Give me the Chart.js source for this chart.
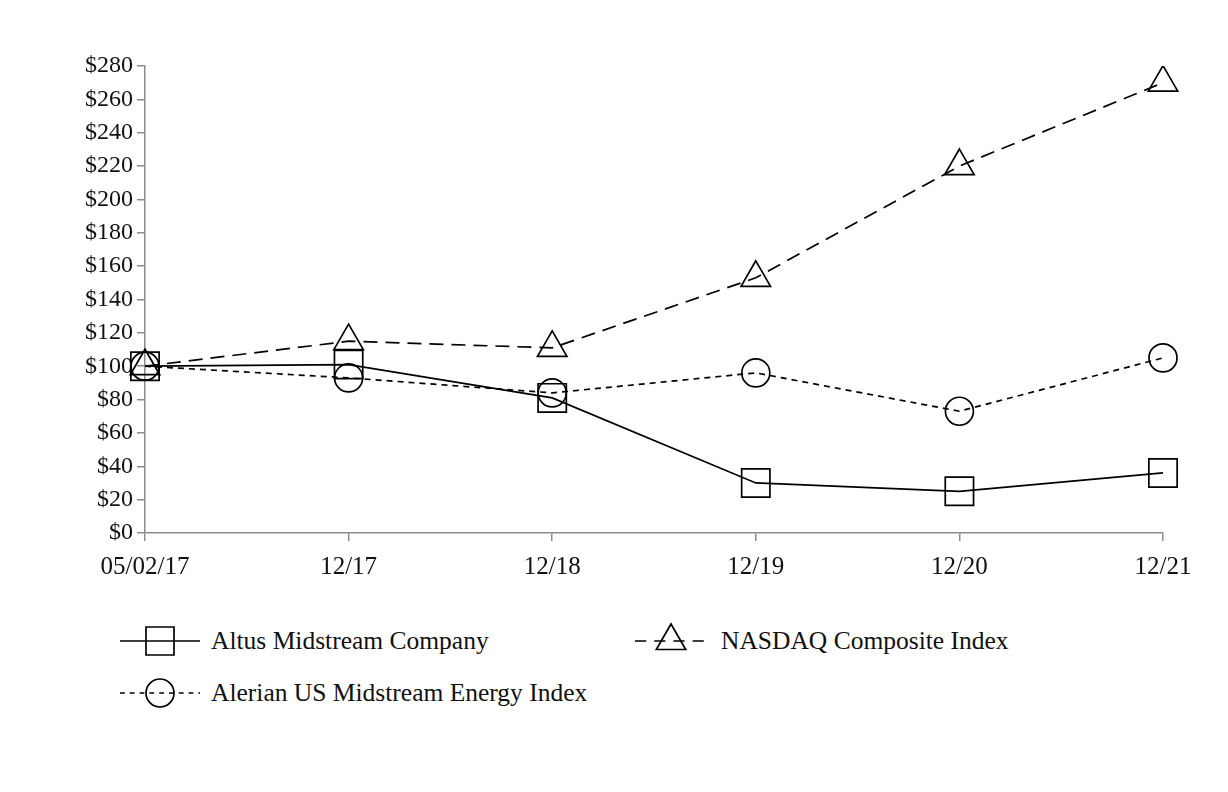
<!DOCTYPE html>
<html>
<head>
<meta charset="utf-8">
<script src="https://cdn.jsdelivr.net/npm/chart.js@4.4.0/dist/chart.umd.min.js"></script>
<style>
  body { margin: 0; background: #fff; font-family: "Liberation Serif", serif; }
  #wrap { position: absolute; left: 0; top: 0; width: 1228px; height: 580px; }
  .legend { position: absolute; font-size: 25.5px; color: #111; }
  .item { position: absolute; white-space: nowrap; display: flex; align-items: center; }
</style>
</head>
<body>
<div id="wrap"><canvas id="myChart"></canvas></div>
<div class="legend" id="legend"></div>
<script>
// datos
var periods = ['05/02/17', '12/17', '12/18', '12/19', '12/20', '12/21'];
var altus = [100, 101, 81, 30, 25, 36];
var nasdaq = [100, 115, 111, 153, 220, 270];
var alerian = [100, 93, 84, 96, 73, 105];
var yTicks = [0, 20, 40, 60, 80, 100, 120, 140, 160, 180, 200, 220, 240, 260, 280];

var series = [
    { label: 'Altus Midstream Company', data: altus, dash: [], style: 'rect', radius: 20 },
    { label: 'NASDAQ Composite Index', data: nasdaq, dash: [14, 8], style: 'triangle', radius: 17 },
    { label: 'Alerian US Midstream Energy Index', data: alerian, dash: [6, 5], style: 'circle', radius: 14 }
];

var axisColor = '#8c8c8c';

var ctx = document.getElementById('myChart').getContext('2d');
var myChart = new Chart(ctx, {
    type: 'line',
    data: {
        labels: periods,
        datasets: series.map(function (s) {
            return {
                label: s.label,
                data: s.data,
                borderColor: '#000',
                borderWidth: 1.7,
                borderDash: s.dash,
                fill: false,
                tension: 0,
                pointStyle: s.style,
                pointRadius: s.radius,
                pointHoverRadius: s.radius,
                pointBorderColor: '#000',
                pointBackgroundColor: 'rgba(0,0,0,0)',
                pointBorderWidth: 1.7
            };
        })
    },
    options: {
        responsive: true,
        maintainAspectRatio: false,
        animation: false,
        layout: { padding: { left: 0, right: 65, top: 66, bottom: 0 } },
        plugins: { legend: { display: false }, tooltip: { enabled: false } },
        scales: {
            x: {
                offset: false,
                grid: { display: true, drawOnChartArea: false, tickLength: 8, color: axisColor, lineWidth: 1.5 },
                border: { color: axisColor, width: 1.5 },
                ticks: { color: '#111', font: { family: 'Liberation Serif', size: 25 }, padding: 11, maxRotation: 0 },
                afterFit: function (scale) { scale.height = 47; }
            },
            y: {
                min: 0,
                max: 280,
                afterBuildTicks: function (scale) {
                    scale.ticks = yTicks.map(function (v) { return { value: v }; });
                },
                grid: { display: true, drawOnChartArea: false, tickLength: 8, color: axisColor, lineWidth: 1.5 },
                border: { color: axisColor, width: 1.5 },
                ticks: {
                    color: '#111',
                    font: { family: 'Liberation Serif', size: 24 },
                    padding: 4,
                    callback: function (v) { return '$' + v; }
                },
                afterFit: function (scale) { scale.width = 145; }
            }
        }
    }
});

// Leyenda
var legendPos = [
    { left: 120, top: 622, w: 80, gap: 11 },
    { left: 635, top: 622, w: 72, gap: 14 },
    { left: 120, top: 674, w: 80, gap: 11 }
];

function drawSymbol(c, s) {
    var g = c.getContext('2d');
    var w = c.width, h = c.height, cy = h / 2, cx = w / 2;
    g.strokeStyle = '#000';
    g.lineWidth = 1.7;
    g.setLineDash(s.dash.length ? [s.dash[0] * 0.8, s.dash[1]] : []);
    g.beginPath();
    g.moveTo(0, cy);
    g.lineTo(w, cy);
    g.stroke();
    g.setLineDash([]);
    g.beginPath();
    if (s.style === 'rect') {
        g.rect(cx - 14, cy - 14, 28, 28);
    } else if (s.style === 'triangle') {
        g.moveTo(cx, cy - 17);
        g.lineTo(cx + 14.7, cy + 8.5);
        g.lineTo(cx - 14.7, cy + 8.5);
        g.closePath();
    } else {
        g.arc(cx, cy, 14, 0, Math.PI * 2);
    }
    g.stroke();
}

var legend = document.getElementById('legend');
series.forEach(function (s, i) {
    var p = legendPos[i];
    var item = document.createElement('div');
    item.className = 'item';
    item.style.left = p.left + 'px';
    item.style.top = p.top + 'px';
    var c = document.createElement('canvas');
    c.width = p.w;
    c.height = 38;
    c.style.marginRight = p.gap + 'px';
    item.appendChild(c);
    var t = document.createElement('span');
    t.textContent = s.label;
    item.appendChild(t);
    legend.appendChild(item);
    drawSymbol(c, s);
});
</script>
</body>
</html>
